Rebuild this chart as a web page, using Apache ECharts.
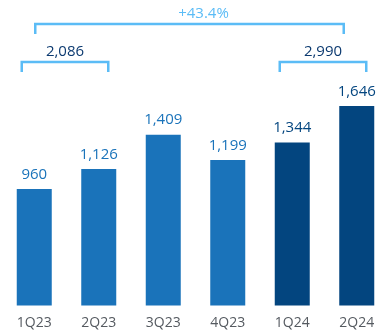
<!DOCTYPE html>
<html><head><meta charset="utf-8">
<script src="https://cdn.jsdelivr.net/npm/echarts@6/dist/echarts.min.js"></script>
<style>html,body{margin:0;padding:0;background:#fff}#c{width:392px;height:335px}</style>
</head><body><div id="c"></div>
<script>
const categories = ['1Q23','2Q23','3Q23','4Q23','1Q24','2Q24'];
const values = [960, 1126, 1409, 1199, 1344, 1646];
const isCurrent = [false, false, false, false, true, true];
const brackets = [
  {from: 0, to: 5, text: '+43.4%', kind: 'growth'},
  {from: 0, to: 1, text: '2,086', kind: 'sum'},
  {from: 4, to: 5, text: '2,990', kind: 'sum'}
];
const C_OLD = '#1a73ba', C_NEW = '#03457f', C_BR = '#5bbcf6', C_SUM = '#0c3a70';
const fmt = v => v.toLocaleString('en-US');
const chart = echarts.init(document.getElementById('c'), null, {renderer: 'canvas'});
chart.setOption({
  animation: false,
  grid: {left: 2, right: 3, top: 63, bottom: 29.5},
  xAxis: {type: 'category', data: categories, axisLine: {show: false}, axisTick: {show: false},
    axisLabel: {color: '#555a60', fontSize: 14, fontFamily: 'Open Sans', margin: 11}},
  yAxis: {type: 'value', min: 0, max: 2000, show: false, splitLine: {show: false}},
  series: [{type: 'bar', barWidth: 35,
    data: values.map((v, i) => ({value: v, itemStyle: {color: isCurrent[i] ? C_NEW : C_OLD},
      label: {color: isCurrent[i] ? C_NEW : C_OLD}})),
    label: {show: true, position: 'top', distance: 7, fontSize: 15, fontFamily: 'Open Sans',
      formatter: p => fmt(p.value)}}]
});
const px = i => chart.convertToPixel({xAxisIndex: 0}, i);
const g = [];
brackets.forEach(b => {
  let x1, x2, y, yt, color, tc, tx;
  if (b.kind === 'growth') {
    x1 = px(b.from) + 1; x2 = px(b.to) - 13; y = 24; color = C_BR; tc = C_BR; tx = (x1 + x2) / 2 + 14; yt = 14;
  } else {
    x1 = px(b.from) - 12.5; x2 = px(b.to) + 9.5; y = 62; color = C_BR; tc = C_SUM; tx = (x1 + x2) / 2; yt = 52;
  }
  g.push({type: 'polyline', shape: {points: [[x1, y + 10], [x1, y], [x2, y], [x2, y + 10]]},
    style: {stroke: color, lineWidth: 2.5, fill: null}});
  g.push({type: 'text', x: tx, y: yt, style: {text: b.text, fill: tc, font: '15px "Open Sans"',
    textAlign: 'center', textVerticalAlign: 'middle'}});
});
chart.setOption({graphic: g});
</script></body></html>
